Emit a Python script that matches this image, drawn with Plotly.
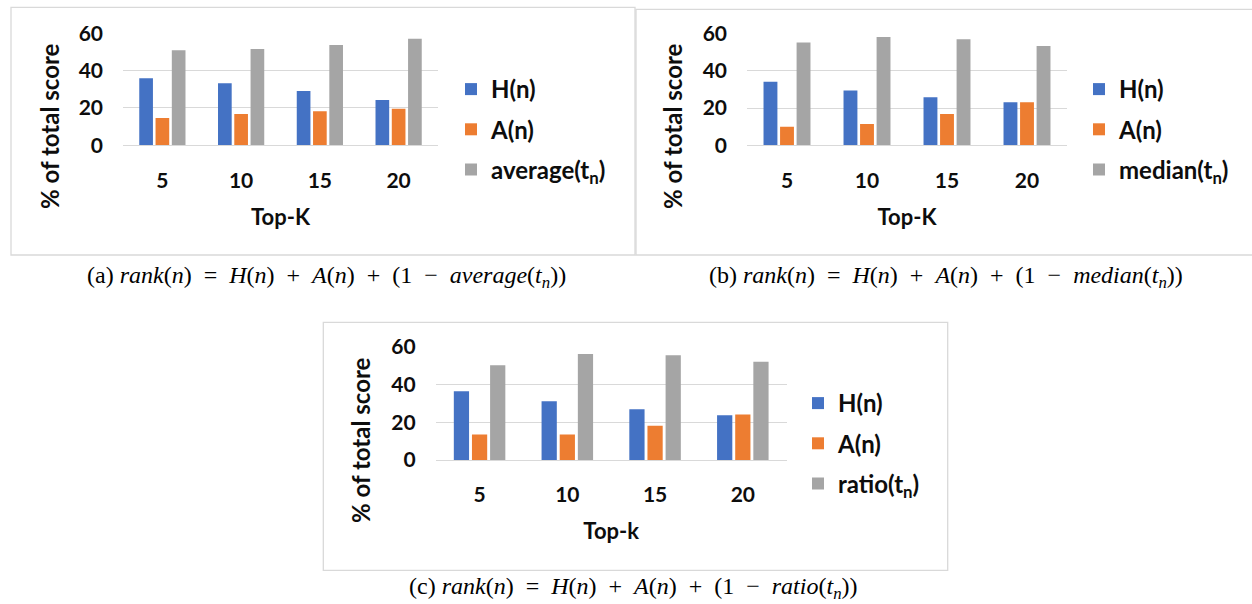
import plotly.graph_objects as go

W, H = 1252, 604

topk = ["5", "10", "15", "20"]

a_H = [35.9, 33.2, 29.1, 24.3]
a_A = [14.6, 16.8, 18.2, 19.6]
a_avg = [50.9, 51.6, 53.7, 57.1]

b_H = [34.2, 29.4, 25.8, 23.1]
b_A = [10.0, 11.5, 16.8, 23.1]
b_med = [55.3, 58.2, 57.0, 53.4]

c_H = [36.5, 31.2, 26.9, 23.7]
c_A = [13.5, 13.5, 18.2, 24.2]
c_ratio = [50.3, 56.3, 55.6, 52.2]

yticks = [0, 20, 40, 60]

BLUE, ORANGE, GRAY = "#4472C4", "#ED7D31", "#A5A5A5"
TXT = "#0d0d0d"
GRID = "#d9d9d9"
FONT = "Lato"


def px_x(v):
    return v / W


def px_y(v):
    return 1 - v / H


fig = go.Figure()

panels = [
    dict(xa="x", ya="y", leg="legend", names=["H(n)", "A(n)", "average(t<sub>n</sub>)"],
         data=[a_H, a_A, a_avg]),
    dict(xa="x2", ya="y2", leg="legend2", names=["H(n)", "A(n)", "median(t<sub>n</sub>)"],
         data=[b_H, b_A, b_med]),
    dict(xa="x3", ya="y3", leg="legend3", names=["H(n)", "A(n)", "ratio(t<sub>n</sub>)"],
         data=[c_H, c_A, c_ratio]),
]
colors = [BLUE, ORANGE, GRAY]

for p in panels:
    for i, (nm, vals) in enumerate(zip(p["names"], p["data"])):
        fig.add_trace(go.Bar(
            x=topk, y=vals, name=nm, marker=dict(color=colors[i], line=dict(width=0)),
            xaxis=p["xa"], yaxis=p["ya"], legend=p["leg"],
            legendgroup=p["leg"] + str(i), hoverinfo="skip",
        ))

# axis geometry in pixels: (x0, x1, ytop(60), ybottom(0))
geo = [
    (123, 438, 33.3, 145.3),
    (747, 1067, 33.7, 145.3),
    (435.7, 786.7, 347, 460),
]
xtitles = ["Top-K", "Top-K", "Top-k"]

axis_font = dict(family=FONT, size=21, color=TXT, weight="bold")
xtitle_font = dict(family=FONT, size=22, color=TXT, weight="bold")
layout_axes = {}
for k, (x0, x1, yt, yb) in enumerate(geo):
    sx = "" if k == 0 else str(k + 1)
    layout_axes["xaxis" + sx] = dict(
        domain=[px_x(x0), px_x(x1)], anchor="y" + sx,
        showgrid=False, showline=True, linecolor=GRID, linewidth=1.3,
        ticks="", tickfont=axis_font, ticklabelstandoff=16,
        title=dict(text=xtitles[k], font=xtitle_font, standoff=18),
        fixedrange=True, automargin=False,
    )
    layout_axes["yaxis" + sx] = dict(
        domain=[px_y(yb), px_y(yt)], anchor="x" + sx,
        range=[0, 60], tickvals=yticks, ticktext=[str(t) for t in yticks],
        showgrid=True, gridcolor=GRID, gridwidth=1.3,
        zeroline=True, zerolinecolor=GRID, zerolinewidth=1.3,
        showline=False, ticks="", tickfont=axis_font, ticklabelstandoff=19,
        fixedrange=True, automargin=False,
    )

fig.update_layout(**layout_axes)

# panel borders
borders = [(11, 7.3, 635, 255), (636, 9.3, 1260, 255), (323.3, 322.3, 947.7, 570.3)]
shapes = []
for (x0, y0, x1, y1) in borders:
    shapes.append(dict(type="rect", xref="paper", yref="paper",
                       x0=px_x(x0), x1=px_x(x1), y0=px_y(y1), y1=px_y(y0),
                       line=dict(color=GRID, width=1.3), fillcolor="rgba(0,0,0,0)",
                       layer="below"))

annotations = []
# y titles
ytitle_font = dict(family=FONT, size=24, color=TXT, weight="bold")
for (x, y) in [(49, 126), (672, 126), (361, 440)]:
    annotations.append(dict(text="% of total score", x=px_x(x), y=px_y(y),
                            xref="paper", yref="paper", showarrow=False, textangle=-90,
                            font=ytitle_font, xanchor="center", yanchor="middle"))

E = "\u2002"
cap_font = dict(family="Liberation Serif", size=24, color="#000000")
caps = [
    (f"(a) <i>rank</i>(<i>n</i>){E}={E}<i>H</i>(<i>n</i>){E}+{E}<i>A</i>(<i>n</i>){E}+{E}(1{E}−{E}<i>average</i>(<i>t<sub>n</sub></i>))", 326, 277),
    (f"(b) <i>rank</i>(<i>n</i>){E}={E}<i>H</i>(<i>n</i>){E}+{E}<i>A</i>(<i>n</i>){E}+{E}(1{E}−{E}<i>median</i>(<i>t<sub>n</sub></i>))", 946, 277),
    (f"(c) <i>rank</i>(<i>n</i>){E}={E}<i>H</i>(<i>n</i>){E}+{E}<i>A</i>(<i>n</i>){E}+{E}(1{E}−{E}<i>ratio</i>(<i>t<sub>n</sub></i>))", 633, 588),
]
for (t, x, y) in caps:
    annotations.append(dict(text=t, x=px_x(x), y=px_y(y), xref="paper", yref="paper",
                            showarrow=False, font=cap_font, xanchor="center", yanchor="middle"))

leg_font = dict(family=FONT, size=24, color=TXT, weight="bold")
leg_common = dict(font=leg_font, xanchor="left", yanchor="top", bgcolor="rgba(0,0,0,0)",
                  borderwidth=0, tracegroupgap=6, traceorder="grouped", itemclick=False,
                  itemdoubleclick=False)
fig.update_layout(
    width=W, height=H, margin=dict(l=0, r=0, t=0, b=0, autoexpand=False),
    paper_bgcolor="white", plot_bgcolor="white",
    barmode="group", bargap=0.38, bargroupgap=0.16,
    showlegend=True,
    legend=dict(x=px_x(451), y=px_y(67), **leg_common),
    legend2=dict(x=px_x(1079), y=px_y(67), **leg_common),
    legend3=dict(x=px_x(798), y=px_y(381), **leg_common),
    shapes=shapes, annotations=annotations,
)

fig.write_html(
    "out.html",
    config={"displayModeBar": False},
    post_script="document.documentElement.style.margin='0';document.body.style.margin='0';"
                "document.body.style.overflow='hidden';",
)
